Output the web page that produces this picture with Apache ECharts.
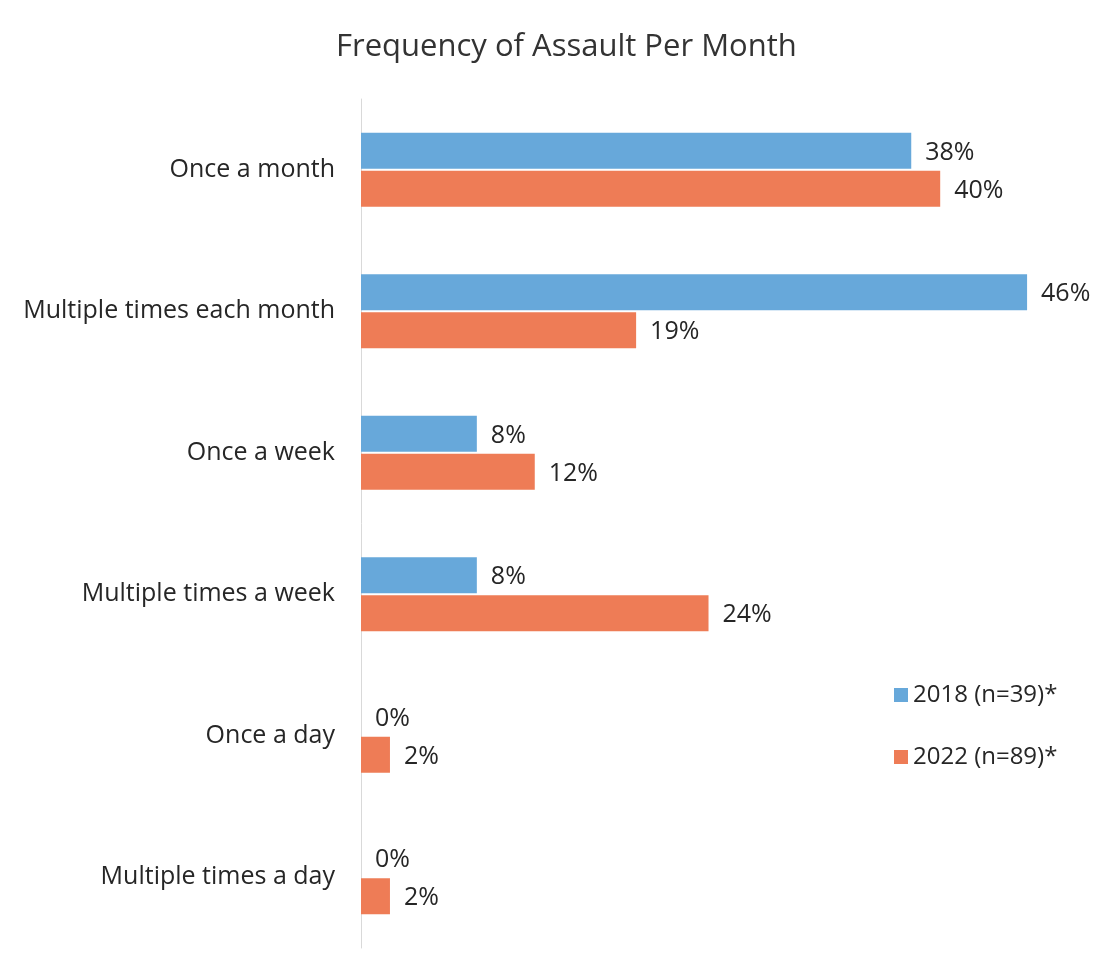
<!DOCTYPE html>
<html>
<head>
<meta charset="utf-8">
<script src="https://cdn.jsdelivr.net/npm/echarts@6/dist/echarts.min.js"></script>
<style>
  html, body { margin: 0; padding: 0; background: #fff; }
  #chart { width: 1104px; height: 972px; }
</style>
</head>
<body>
<div id="chart"></div>
<script>
const categories = ['Once a month', 'Multiple times each month', 'Once a week',
  'Multiple times a week', 'Once a day', 'Multiple times a day'];
const values2018 = [38, 46, 8, 8, 0, 0];
const values2022 = [40, 19, 12, 24, 2, 2];
const seriesNames = ['2018 (n=39)*', '2022 (n=89)*'];

const chart = echarts.init(document.getElementById('chart'));
const font = '"Open Sans", sans-serif';

const labelStyle = {
  show: true,
  position: 'right',
  distance: 14,
  offset: [0, 2],
  formatter: '{c}%',
  color: '#262626',
  fontSize: 25,
  fontFamily: font
};

chart.setOption({
  animation: false,
  backgroundColor: '#fff',
  title: {
    text: 'Frequency of Assault Per Month',
    left: 331,
    top: 27,
    textStyle: { fontSize: 31, fontWeight: 'normal', color: '#333', fontFamily: font }
  },
  legend: {
    orient: 'vertical',
    left: 889,
    top: 678,
    itemWidth: 14,
    itemHeight: 14,
    itemGap: 38,
    icon: 'rect',
    textStyle: { fontSize: 24, color: '#262626', fontFamily: font },
    data: seriesNames
  },
  grid: { left: 361, right: 19, top: 99, bottom: 24 },
  xAxis: {
    type: 'value',
    min: 0,
    max: 50,
    show: false
  },
  yAxis: {
    type: 'category',
    data: categories,
    inverse: true,
    axisLine: { show: true, lineStyle: { color: '#d9d9d9', width: 1 } },
    axisTick: { show: false },
    axisLabel: { fontSize: 25, color: '#262626', margin: 26, fontFamily: font }
  },
  series: [
    {
      name: seriesNames[0],
      type: 'bar',
      data: values2018,
      barWidth: 36,
      barGap: '5%',
      itemStyle: { color: '#67a8da' },
      label: labelStyle
    },
    {
      name: seriesNames[1],
      type: 'bar',
      data: values2022,
      barWidth: 36,
      itemStyle: { color: '#ee7c56' },
      label: labelStyle
    }
  ]
});
</script>
</body>
</html>
